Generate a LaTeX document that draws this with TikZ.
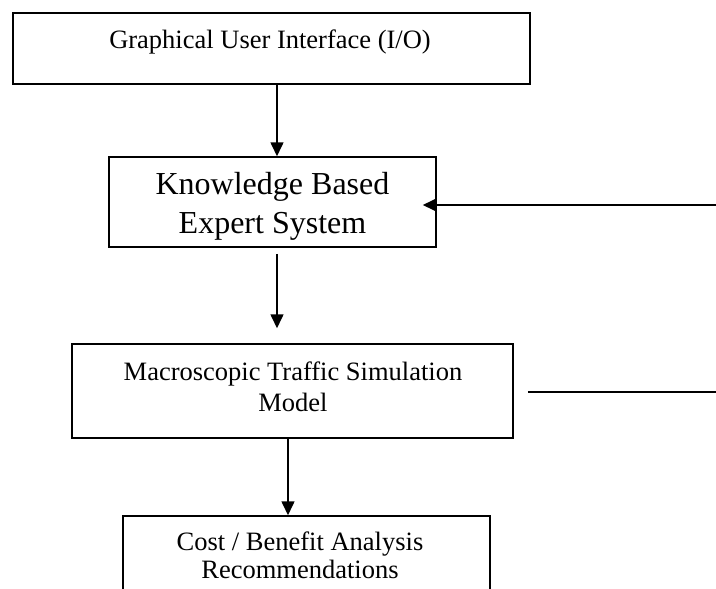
\documentclass[tikz,border=0pt]{standalone}
\usepackage{fontspec}
\setmainfont{Liberation Serif}
\usetikzlibrary{arrows.meta}
\begin{document}
\begin{tikzpicture}[x=1pt,y=-1pt,
  box/.style={draw, line width=1.5pt, inner sep=0pt},
  small/.style={font=\fontsize{26.5}{31}\selectfont, align=center, inner sep=0pt},
  big/.style={font=\fontsize{32}{39}\selectfont, align=center, inner sep=0pt},
  arr/.style={line width=1.6pt, -{Triangle[length=14pt,width=13pt]}},
  plainline/.style={line width=1.6pt}]
\useasboundingbox (0,0) rectangle (716,589);
\clip (0,0) rectangle (716,589);
% boxes
\node[box, minimum width=517pt, minimum height=71pt] (gui) at (271.5,48.5) {};
\node[small] (guit) at (270,42) {Graphical User Interface (I/O)};
\node[box, minimum width=327pt, minimum height=90pt] (kb) at (272.5,202) {};
\node[big] (kbt) at (272.5,206.5) {Knowledge Based\\Expert System};
\node[box, minimum width=441pt, minimum height=94pt] (mts) at (292.5,391) {};
\node[small] (mtst) at (293,386.5) {Macroscopic Traffic Simulation\\Model};
\node[box, minimum width=367pt, minimum height=100pt] (cba) at (306.5,566) {};
\node[small, font=\fontsize{26.5}{28}\selectfont] (cbat) at (300,555) {Cost / Benefit Analysis\\Recommendations};
% free ends
\coordinate (rin) at (716,205);
\coordinate (rout) at (716,392);
% connectors
\draw[arr] ([xshift=5.5pt]gui.south) -- ([xshift=4.5pt]kb.north);
\draw[arr] (rin) -- ([xshift=-14pt,yshift=-3pt]kb.east);
\draw[arr] ([xshift=4.5pt,yshift=-6pt]kb.south) -- ([xshift=-15.5pt,yshift=15pt]mts.north);
\draw[plainline] ([xshift=14pt,yshift=-1pt]mts.east) -- (rout);
\draw[arr] ([xshift=-4.5pt]mts.south) -- ([xshift=-18.5pt]cba.north);
\end{tikzpicture}
\end{document}
